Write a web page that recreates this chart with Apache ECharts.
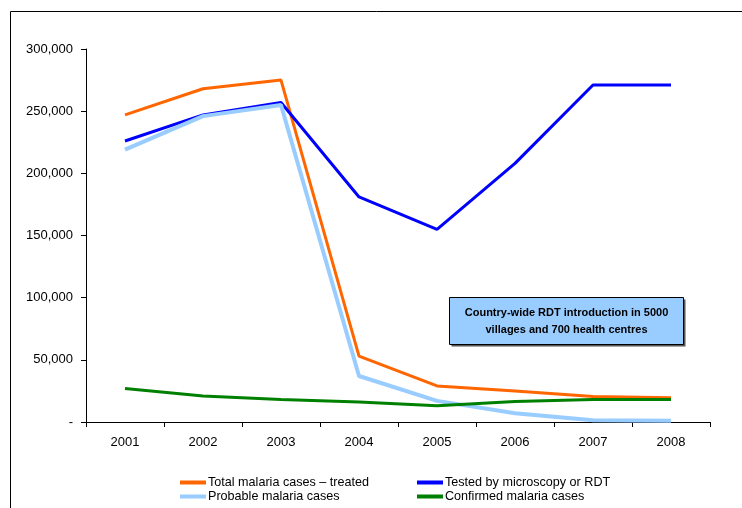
<!DOCTYPE html>
<html>
<head>
<meta charset="utf-8">
<script src="https://cdn.jsdelivr.net/npm/echarts@6/dist/echarts.min.js"></script>
<style>
  html, body { margin: 0; padding: 0; background: #fff; }
  #main { width: 742px; height: 508px; }
</style>
</head>
<body>
<div id="main"></div>
<script>
// years on the x axis
var years = ['2001', '2002', '2003', '2004', '2005', '2006', '2007', '2008'];

// series values
var totalTreated = [247000, 268000, 275000, 53000, 29000, 25000, 20500, 19500];
var testedRdt = [226000, 247000, 257000, 181000, 155000, 208000, 271000, 271000];
var probable = [219000, 246000, 255000, 37000, 17000, 7000, 1500, 1000];
var confirmed = [27000, 21000, 18000, 16000, 13000, 16500, 18000, 18000];

var seriesNames = [
    'Total malaria cases \u2013 treated',
    'Tested by microscopy or RDT',
    'Probable malaria cases',
    'Confirmed malaria cases'
];

var myChart = echarts.init(document.getElementById('main'));

function line(name, data, color, width) {
    return {
        name: name,
        type: 'line',
        data: data,
        symbol: 'none',
        lineStyle: { color: color, width: width },
        itemStyle: { color: color }
    };
}

// one legend per entry, laid out as two columns of two
function legendItem(name, left, top) {
    return {
        left: left, top: top,
        padding: 0,
        itemWidth: 26, itemHeight: 4, itemGap: 0,
        icon: 'rect',
        textStyle: { fontFamily: 'Arial, Liberation Sans', fontSize: 12.6, color: '#000', padding: [0, 0, 0, -3] },
        data: [name]
    };
}

option = {
    animation: false,
    backgroundColor: '#fff',
    grid: { left: 86, right: 32, top: 49, bottom: 86 },
    legend: [
        legendItem(seriesNames[0], 180, 476),
        legendItem(seriesNames[2], 180, 490),
        legendItem(seriesNames[1], 417, 476),
        legendItem(seriesNames[3], 417, 490)
    ],
    xAxis: {
        type: 'category',
        data: years,
        boundaryGap: true,
        axisLine: { lineStyle: { color: '#000', width: 1 } },
        axisTick: { show: true, length: 5, lineStyle: { color: '#000' } },
        axisLabel: { color: '#000', fontFamily: 'Arial, Liberation Sans', fontSize: 13, margin: 14 }
    },
    yAxis: {
        type: 'value',
        min: 0, max: 300000, interval: 50000,
        splitLine: { show: false },
        axisLine: { show: true, lineStyle: { color: '#000', width: 1 } },
        axisTick: { show: true, length: 5, lineStyle: { color: '#000' } },
        axisLabel: {
            color: '#000', fontFamily: 'Arial, Liberation Sans', fontSize: 13, margin: 13,
            formatter: function (v) { return v === 0 ? '-' : v.toLocaleString('en-US'); }
        }
    },
    series: [
        line(seriesNames[0], totalTreated, '#ff6600', 3),
        line(seriesNames[1], testedRdt, '#0000ff', 3),
        line(seriesNames[2], probable, '#99ccff', 4),
        line(seriesNames[3], confirmed, '#008000', 3)
    ],
    graphic: [
        {
            type: 'rect',
            shape: { x: 10.5, y: 11.5, width: 760, height: 520 },
            style: { fill: 'none', stroke: '#000', lineWidth: 1 },
            silent: true
        },
        {
            type: 'group',
            left: 449, top: 297,
            children: [
                {
                    type: 'rect',
                    shape: { x: 2, y: 2, width: 234, height: 47 },
                    style: { fill: '#555' }
                },
                {
                    type: 'rect',
                    shape: { x: 0, y: 0, width: 234, height: 47 },
                    style: { fill: '#99ccff', stroke: '#000', lineWidth: 1 }
                },
                {
                    type: 'text',
                    x: 117, y: 24,
                    style: {
                        text: 'Country-wide RDT introduction in 5000\nvillages and 700 health centres',
                        align: 'center', verticalAlign: 'middle',
                        font: 'bold 11px "Liberation Sans", Arial',
                        lineHeight: 17,
                        fill: '#000'
                    }
                }
            ]
        }
    ]
};

myChart.setOption(option);
</script>
</body>
</html>
